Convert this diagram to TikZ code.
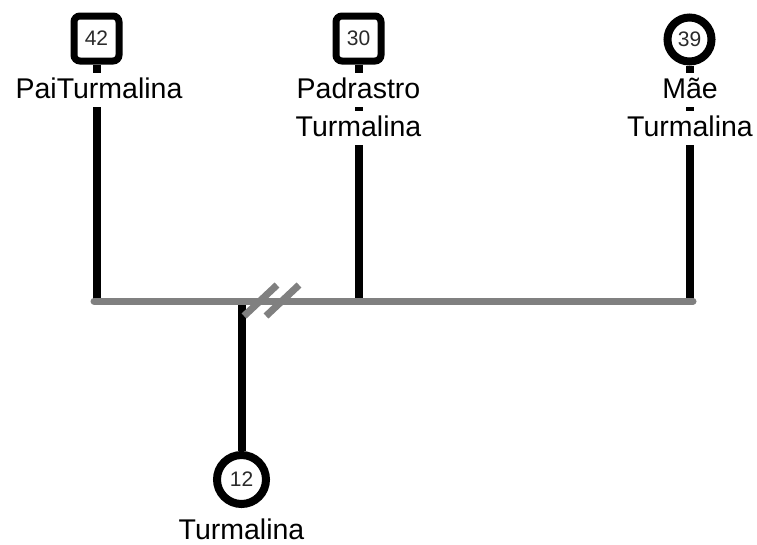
\documentclass[tikz,border=0pt]{standalone}
\usepackage{fontspec}
\setmainfont{Liberation Sans}
\definecolor{bargray}{HTML}{808080}
\definecolor{numgray}{HTML}{2A2A2A}
\begin{document}
\begin{tikzpicture}[x=1pt,y=-1pt,
  male/.style={draw=black, line width=7pt, fill=white, rounded corners=6pt,
    minimum size=45pt, inner sep=0pt, text=numgray,
    font=\fontsize{21}{24}\selectfont},
  female/.style={draw=black, line width=8pt, fill=white, circle,
    inner sep=0pt, text=numgray, font=\fontsize{21}{24}\selectfont},
  lbl/.style={inner xsep=2pt, inner ysep=5pt, anchor=base,
    text height=20pt, text depth=4pt,
    font=\fontsize{28.5}{32}\selectfont},
  stem/.style={draw=black, line width=8pt},
  bar/.style={draw=bargray, line width=7pt},
  breakmark/.style={draw=bargray, line width=7pt}]
\useasboundingbox (0,0) rectangle (757,544);

% people
\node[male] (pai) at (96.5,38.5) {42};
\node[male] (pad) at (358.5,38.5) {30};
\node[female, minimum size=44pt] (mae) at (689.5,39.5) {39};
\node[female, minimum size=49pt] (filha) at (241.5,479.5) {12};

% names
\node[lbl] (paiLbl) at (99,98) {PaiTurmalina};
\node[lbl] (padLbl1) at (358.5,98) {Padrastro};
\node[lbl] (padLbl2) at (358.5,136) {Turmalina};
\node[lbl] (maeLbl1) at (690,98) {Mãe};
\node[lbl] (maeLbl2) at (690,136) {Turmalina};
\node[lbl, inner ysep=0pt, text depth=0pt] (filhaLbl) at (241.5,539) {Turmalina};

% points where the lines meet the partnership bar
\coordinate (jpai) at (96.5,301);
\coordinate (jpad) at (358.5,301);
\coordinate (jmae) at (689.5,301);
\coordinate (jfilha) at (241.5,301);
\coordinate (barL) at (94,301);
\coordinate (barR) at (693,301);

% vertical lines, interrupted by the names
\draw[stem] (pai.south) -- (pai.south |- paiLbl.north);
\draw[stem] (pai.south |- paiLbl.south) -- (jpai);
\draw[stem] (pad.south) -- (pad.south |- padLbl1.north);
\draw[stem] (pad.south |- padLbl1.south) -- (pad.south |- padLbl2.north);
\draw[stem] (pad.south |- padLbl2.south) -- (jpad);
\draw[stem] (mae.south) -- (mae.south |- maeLbl1.north);
\draw[stem] (mae.south |- maeLbl1.south) -- (mae.south |- maeLbl2.north);
\draw[stem] (mae.south |- maeLbl2.south) -- (jmae);
\draw[stem] (jfilha) -- (filha.north);

% partnership bar with separation marks
\draw[bar, line cap=round] (barL) -- (barR);
\coordinate (s1a) at (244,316);
\coordinate (s1b) at (277,285);
\coordinate (s2a) at (266,316);
\coordinate (s2b) at (299,285);
\draw[breakmark] (s1a) -- (s1b);
\draw[breakmark] (s2a) -- (s2b);
\end{tikzpicture}
\end{document}
